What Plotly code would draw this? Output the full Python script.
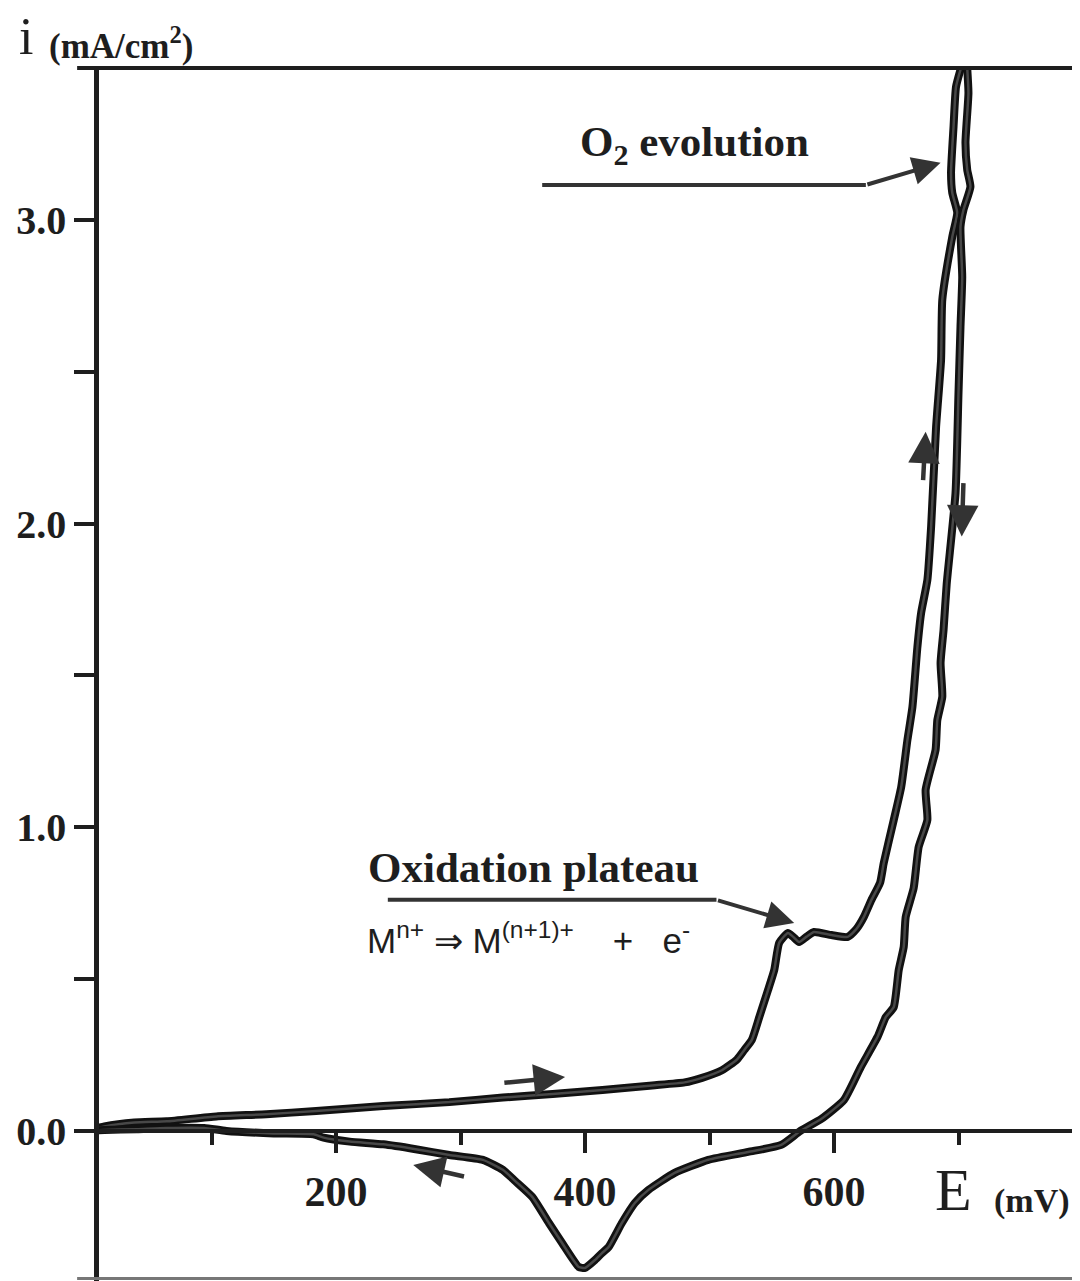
import plotly.graph_objects as go

# ---- data (E in mV, i in mA/cm2) ----
E_forward = [0, 14, 38, 64, 104, 144, 184, 238, 291, 334, 374, 414, 454, 480, 494, 510, 522, 528, 534,
             540, 547, 552, 556, 563, 567, 572, 578, 584, 598, 611, 618, 624, 630, 637, 640, 648, 654,
             659, 663, 667, 670, 675, 678, 682, 686, 687, 695, 699, 695, 694, 696, 698, 702]
i_forward = [0.0, 0.015, 0.028, 0.032, 0.048, 0.055, 0.066, 0.082, 0.095, 0.11, 0.122, 0.135, 0.15, 0.16,
             0.175, 0.20, 0.235, 0.267, 0.30, 0.375, 0.464, 0.53, 0.62, 0.652, 0.64, 0.622, 0.64, 0.655,
             0.645, 0.639, 0.665, 0.705, 0.76, 0.817, 0.883, 1.024, 1.133, 1.288, 1.396, 1.594, 1.706,
             1.814, 1.989, 2.318, 2.539, 2.737, 2.944, 3.023, 3.089, 3.155, 3.306, 3.438, 3.5]

E_reverse = [707, 708, 705.6, 707, 709.6, 704, 701.6, 703, 701.6, 700, 697.6, 690.5, 688, 685.6, 687, 683,
             681.6, 673.6, 675, 668, 664, 657.6, 656, 652, 648, 641.6, 635, 621.6, 608, 590, 573, 557.6,
             531, 499, 472, 451, 440, 429.6, 419, 413.6, 408, 400, 395, 381.6, 371, 357.6, 344, 334,
             318, 291, 264, 238, 211, 190, 182, 150, 112, 94, 64, 40, 14, 0]
i_reverse = [3.5, 3.418, 3.254, 3.165, 3.109, 3.033, 2.977, 2.812, 2.648, 2.43, 2.10, 1.8, 1.65, 1.541,
             1.43, 1.353, 1.255, 1.123, 1.024, 0.935, 0.80, 0.705, 0.606, 0.53, 0.408, 0.375, 0.31, 0.211,
             0.102, 0.04, 0.0, -0.046, -0.069, -0.095, -0.138, -0.194, -0.237, -0.303, -0.382, -0.402,
             -0.425, -0.451, -0.448, -0.369, -0.303, -0.217, -0.165, -0.128, -0.095, -0.079, -0.06,
             -0.044, -0.035, -0.022, -0.011, -0.008, 0.0, 0.01, 0.01, 0.006, 0.003, 0.0]

y_tick_vals = [0.0, 0.5, 1.0, 1.5, 2.0, 2.5, 3.0]
y_tick_text = ["0.0", "", "1.0", "", "2.0", "", "3.0"]
x_major_ticks = [200, 400, 600]
x_major_text = ["200", "400", "600"]
x_minor_ticks = [100, 300, 500, 700]

# direction arrows along the sweep: (tail E, tail i, head E, head i)
sweep_arrows = [
    (334, 0.158, 384, 0.178),
    (304, -0.151, 262, -0.112),
    (671.5, 2.138, 673.6, 2.302),
    (704, 2.138, 702.6, 1.957),
]

INK = "#1e1e1e"
SERIF = "Liberation Serif"
SANS = "Liberation Sans"

fig = go.Figure()
for E, I in ((E_forward, i_forward), (E_reverse, i_reverse)):
    fig.add_trace(go.Scatter(x=E, y=I, mode="lines",
                             line=dict(color="#111111", width=8, shape="spline", smoothing=0.5),
                             hoverinfo="skip", showlegend=False))
    fig.add_trace(go.Scatter(x=E, y=I, mode="lines",
                             line=dict(color="#484848", width=2.5, shape="spline", smoothing=0.5),
                             hoverinfo="skip", showlegend=False))

annotations = []
for tx, ty, hx, hy in sweep_arrows:
    annotations.append(dict(x=hx, y=hy, ax=tx, ay=ty, xref="x", yref="y", axref="x", ayref="y",
                            text="", showarrow=True, arrowhead=2, arrowsize=1.4, arrowwidth=4.5,
                            arrowcolor="#333333", standoff=0))

# leader arrows of the labels
annotations.append(dict(x=685.6, y=3.188, ax=625.6, ay=3.115, xref="x", yref="y", axref="x", ayref="y",
                        text="", showarrow=True, arrowhead=2, arrowsize=1.4, arrowwidth=4,
                        arrowcolor="#333333", standoff=0))
annotations.append(dict(x=568, y=0.685, ax=505.6, ay=0.761, xref="x", yref="y", axref="x", ayref="y",
                        text="", showarrow=True, arrowhead=2, arrowsize=1.4, arrowwidth=4,
                        arrowcolor="#333333", standoff=0))

annotations += [
    dict(x=488, y=3.247, xref="x", yref="y", xanchor="center", yanchor="middle",
         text="O<sub>2</sub> evolution", showarrow=False,
         font=dict(family=SERIF, size=43, color=INK, weight="bold")),
    dict(x=358.4, y=0.866, xref="x", yref="y", xanchor="center", yanchor="middle",
         text="Oxidation plateau", showarrow=False,
         font=dict(family=SERIF, size=43, color=INK, weight="bold")),
    dict(x=223.2, y=0.636, xref="x", yref="y", xanchor="left", yanchor="middle",
         text="M<sup>n+</sup> \u21d2 M<sup>(n+1)+</sup>&nbsp;&nbsp;&nbsp;&nbsp;+&nbsp;&nbsp;&nbsp;e<sup>-</sup>",
         showarrow=False, font=dict(family=SANS, size=35, color=INK)),
    # axis titles
    dict(x=-0.0741, y=1.026, xref="paper", yref="paper", xanchor="center", yanchor="middle",
         text="i", showarrow=False, font=dict(family=SERIF, size=52, color=INK)),
    dict(x=-0.0528, y=1.0198, xref="paper", yref="paper", xanchor="left", yanchor="middle",
         text="(mA/cm<sup>2</sup>)", showarrow=False,
         font=dict(family=SERIF, size=35, color=INK, weight="bold")),
    dict(x=0.871, y=0.075, xref="paper", yref="paper", xanchor="center", yanchor="middle",
         text="E", showarrow=False, font=dict(family=SERIF, size=60, color=INK)),
    dict(x=0.951, y=0.066, xref="paper", yref="paper", xanchor="center", yanchor="middle",
         text="(mV)", showarrow=False, font=dict(family=SERIF, size=34, color=INK, weight="bold")),
]

shapes = [
    # top frame line
    dict(type="line", xref="paper", yref="paper", x0=-0.0223, x1=1.0, y0=1.0, y1=1.0,
         line=dict(color=INK, width=4)),
    # bottom frame line
    dict(type="line", xref="paper", yref="paper", x0=-0.0223, x1=1.0, y0=0.002, y1=0.002,
         line=dict(color="#777777", width=3)),
    # horizontal leader lines
    dict(type="line", xref="x", yref="y", x0=365.6, x1=625.6, y0=3.115, y1=3.115,
         line=dict(color="#333333", width=4)),
    dict(type="line", xref="x", yref="y", x0=241.6, x1=505.6, y0=0.761, y1=0.761,
         line=dict(color="#333333", width=4)),
]

fig.update_layout(
    width=1080, height=1281,
    margin=dict(l=87, r=8, t=60, b=8),
    paper_bgcolor="white", plot_bgcolor="white",
    showlegend=False,
    xaxis=dict(range=[9.6, 797.6], anchor="free", position=150 / 1213,
               showline=True, linecolor=INK, linewidth=4, showgrid=False, zeroline=False,
               ticks="outside", ticklen=20, tickwidth=4, tickcolor=INK,
               tickvals=x_major_ticks, ticktext=x_major_text, ticklabelstandoff=3,
               tickfont=dict(family=SERIF, size=42, color=INK, weight="bold"),
               minor=dict(tickvals=x_minor_ticks, ticks="outside", ticklen=12, tickwidth=4,
                          tickcolor=INK, showgrid=False)),
    yaxis=dict(range=[-0.494, 3.5], showline=True, linecolor=INK, linewidth=4.5, showgrid=False,
               zeroline=False, ticks="outside", ticklen=20, tickwidth=4, tickcolor=INK,
               tickvals=y_tick_vals, ticktext=y_tick_text, ticklabelstandoff=0,
               tickfont=dict(family=SERIF, size=40, color=INK, weight="bold")),
    annotations=annotations,
    shapes=shapes,
)

fig.write_html("out.html")
